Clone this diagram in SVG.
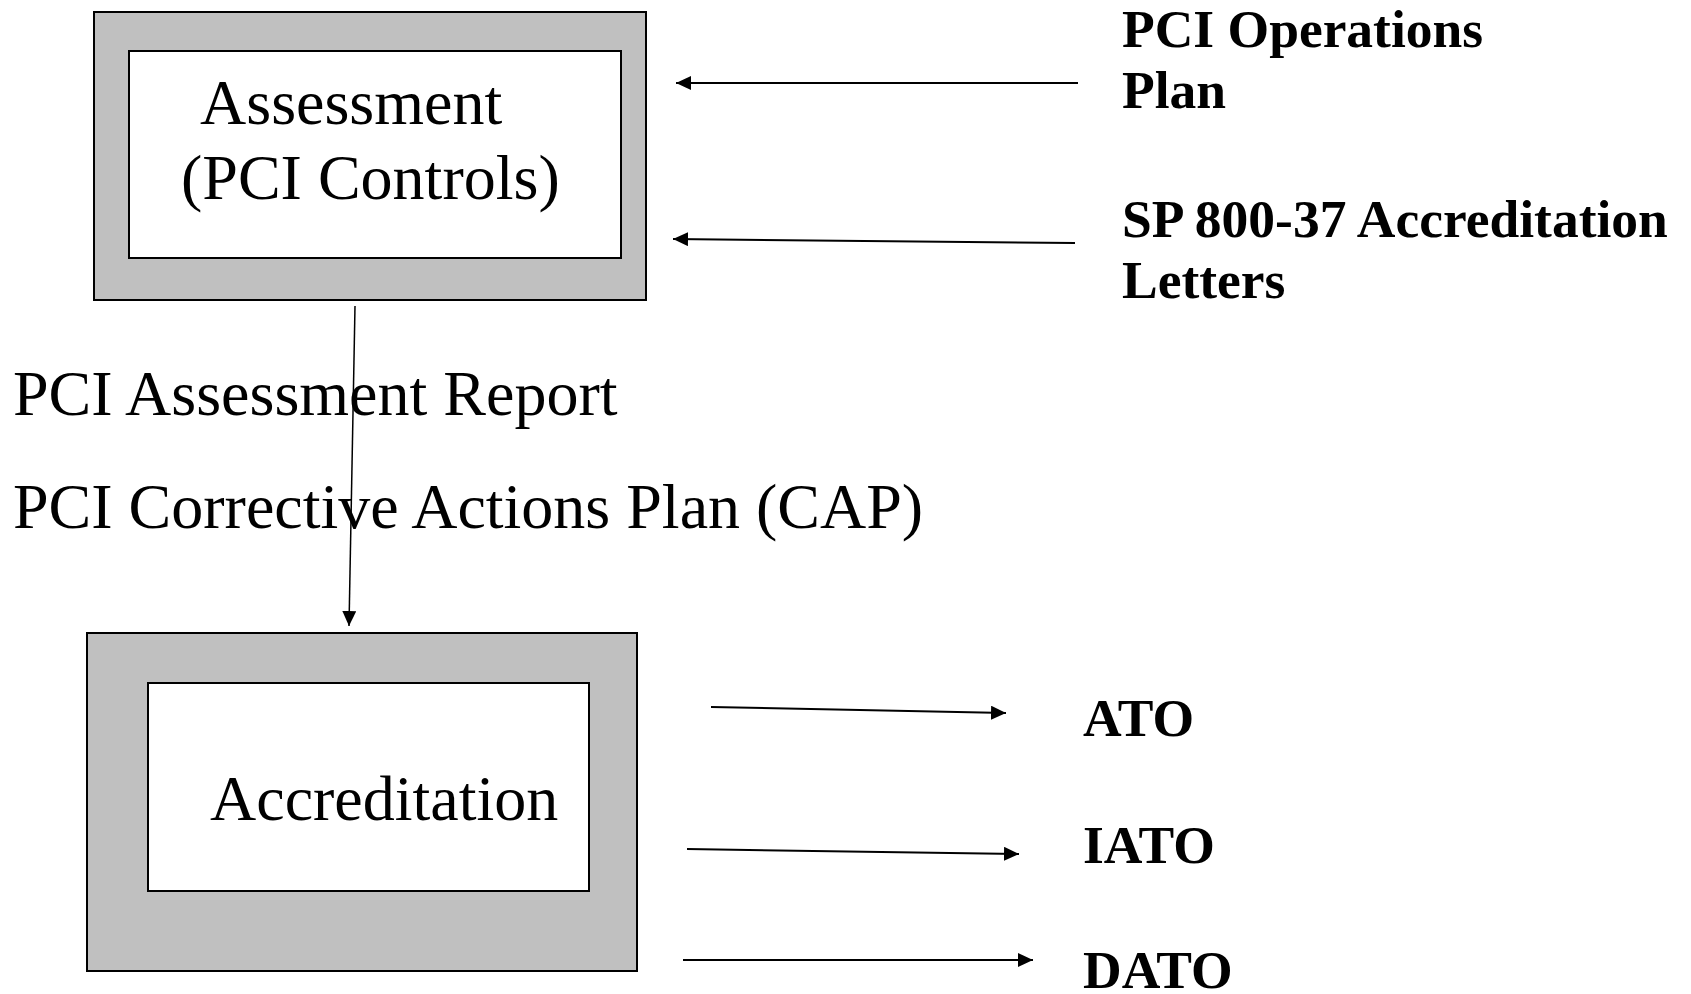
<svg xmlns="http://www.w3.org/2000/svg" width="1691" height="994" viewBox="0 0 1691 994">
<style>
.outer{fill:#c0c0c0;stroke:#000;stroke-width:2}
.inner{fill:#fff;stroke:#000;stroke-width:2}
.big{font-family:"Liberation Serif","Times New Roman",serif;font-size:64px;fill:#000}
.bold{font-family:"Liberation Serif","Times New Roman",serif;font-size:53.5px;font-weight:bold;fill:#000}
.conn{stroke:#000;stroke-width:2;fill:none;marker-end:url(#ah)}
</style>
<defs>
<marker id="ah" markerUnits="userSpaceOnUse" markerWidth="16" markerHeight="14" refX="15" refY="7" orient="auto">
<path d="M0,0 L15,7 L0,14 Z" fill="#000"/>
</marker>
</defs>
<rect width="1691" height="994" fill="#fff"/>
<g id="assessment">
<rect class="outer" x="94" y="12" width="552" height="288"/>
<rect class="inner" x="129" y="51" width="492" height="207"/>
<text class="big" x="200" y="124">Assessment</text>
<text class="big" x="181" y="199">(PCI Controls)</text>
</g>
<g id="accreditation">
<rect class="outer" x="87" y="633" width="550" height="338"/>
<rect class="inner" x="148" y="683" width="441" height="208"/>
<text class="big" x="210" y="820">Accreditation</text>
</g>
<g id="labels">
<text class="big" x="13" y="415">PCI Assessment Report</text>
<text class="big" x="13" y="528">PCI Corrective Actions Plan (CAP)</text>
</g>
<g id="ops-plan">
<text class="bold" x="1122" y="47">PCI Operations</text>
<text class="bold" x="1122" y="108">Plan</text>
</g>
<g id="sp800">
<text class="bold" x="1122" y="237">SP 800-37 Accreditation</text>
<text class="bold" x="1122" y="298">Letters</text>
</g>
<g id="ato"><text class="bold" x="1083" y="736">ATO</text></g>
<g id="iato"><text class="bold" x="1083" y="863">IATO</text></g>
<g id="dato"><text class="bold" x="1083" y="988">DATO</text></g>
<g id="connectors">
<line class="conn" x1="1078" y1="83" x2="676" y2="83"/>
<line class="conn" x1="1075" y1="243" x2="673" y2="239"/>
<line class="conn" x1="355" y1="306" x2="349" y2="626" style="stroke-width:1.5"/>
<line class="conn" x1="711" y1="707" x2="1006" y2="713"/>
<line class="conn" x1="687" y1="849" x2="1019" y2="854"/>
<line class="conn" x1="683" y1="960" x2="1033" y2="960"/>
</g>
</svg>
